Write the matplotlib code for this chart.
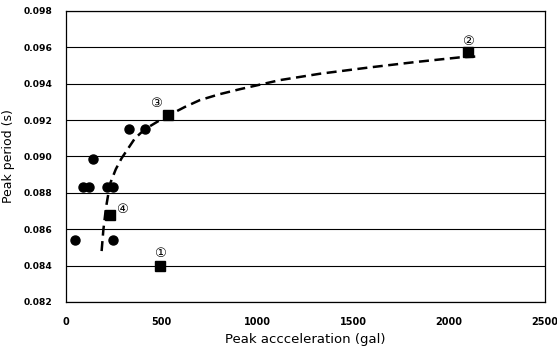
import matplotlib
matplotlib.use("Agg")
import matplotlib.pyplot as plt

# Observed data (circles)
obs_acc = [47, 90, 122, 139, 330, 412, 212, 244, 247]
obs_per = [0.0854, 0.0883, 0.0883, 0.08985, 0.0915, 0.0915, 0.0883, 0.0883, 0.0854]

# Labelled cases (squares)
case_labels = ["①", "②", "③", "④"]
case_acc = [491, 2100, 531, 230]
case_per = [0.0840, 0.09576, 0.09227, 0.0868]
label_acc = [491, 2100, 472, 292]
label_per = [0.08465, 0.09632, 0.0929, 0.08706]

# Trend curve points
trend_acc = [186, 195, 209, 230, 260, 290, 360, 412, 491, 543, 620, 699, 800, 908, 1117, 1326,
             1587, 1830, 2056, 2145]
trend_per = [0.0848, 0.08596, 0.0872, 0.0885, 0.0893, 0.0899, 0.0910, 0.0915, 0.0920, 0.0923,
             0.09272, 0.0931, 0.09342, 0.0937, 0.0942, 0.09455, 0.0949, 0.0952, 0.09545, 0.0955]

xticks = [0, 500, 1000, 1500, 2000, 2500]
yticks = [0.082, 0.084, 0.086, 0.088, 0.090, 0.092, 0.094, 0.096, 0.098]

fig = plt.figure(figsize=(5.57, 3.47), dpi=100)
ax = fig.add_axes([0.1185, 0.1297, 0.8595, 0.8386])

ax.set_xlim(0, 2500)
ax.set_ylim(0.082, 0.098)
ax.set_yticks(yticks)
ax.set_xticks(xticks)
ax.set_yticklabels([f"{v:.3f}" for v in yticks])
ax.set_xticklabels([str(v) for v in xticks])
ax.tick_params(axis="y", length=0, labelsize=6.6, pad=10)
ax.tick_params(axis="x", length=0, labelsize=7, pad=11)
for lab in ax.get_xticklabels() + ax.get_yticklabels():
    lab.set_fontweight("bold")

ax.yaxis.grid(True, color="black", linewidth=0.8)
ax.set_axisbelow(True)
for s in ax.spines.values():
    s.set_linewidth(0.9)
    s.set_color("black")

line, = ax.plot(trend_acc, trend_per, color="black", linewidth=1.8, zorder=3)
line.set_dashes([4, 2.2])

ax.plot(obs_acc, obs_per, "o", color="black", markersize=6.5, zorder=4)
ax.plot(case_acc, case_per, "s", color="black", markersize=6.5, zorder=4)

for t, x, y in zip(case_labels, label_acc, label_per):
    ax.text(x, y, t, ha="center", va="center", fontsize=9.5,
            family=["DejaVu Sans", "Noto Sans CJK JP"], zorder=5)

ax.set_xlabel("Peak accceleration (gal)", fontsize=9.5, labelpad=4)
ax.set_ylabel("Peak period (s)", fontsize=9, labelpad=6)

fig.savefig("out.png", dpi=100)
